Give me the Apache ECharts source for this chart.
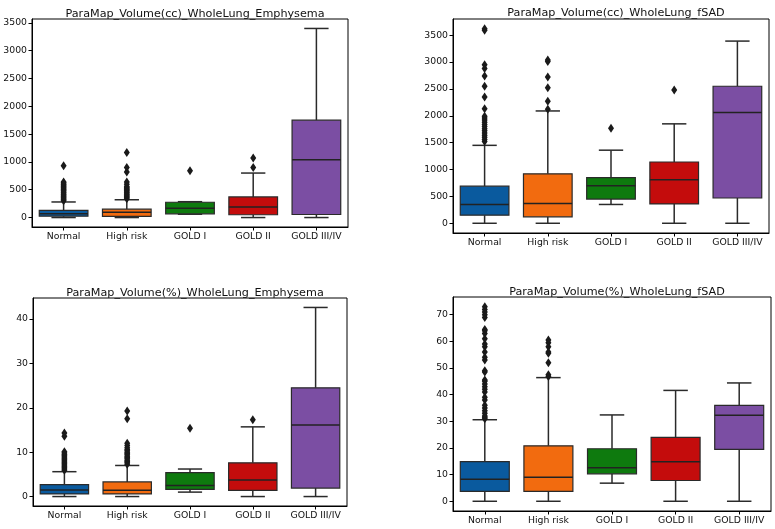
<!DOCTYPE html>
<html><head><meta charset="utf-8">
<script src="https://cdn.jsdelivr.net/npm/echarts@6/dist/echarts.min.js"></script>
<style>html,body{margin:0;padding:0;background:#fff}#c{width:775px;height:529px}</style>
</head><body><div id="c"></div>
<script>
const categories = ['Normal', 'High risk', 'GOLD I', 'GOLD II', 'GOLD III/IV'];
const boxColors = ['#0a5a9e', '#f26b0f', '#0e7a0e', '#c40c0c', '#7b4ea3'];

const titles = [
  'ParaMap_Volume(cc)_WholeLung_Emphysema',
  'ParaMap_Volume(cc)_WholeLung_fSAD',
  'ParaMap_Volume(%)_WholeLung_Emphysema',
  'ParaMap_Volume(%)_WholeLung_fSAD'
];

// box stats: [whiskerLow, Q1, median, Q3, whiskerHigh]
const ccEmphStats = [[0, 25, 70, 130, 280], [0, 20, 95, 150, 320], [60, 66, 167, 275, 285], [0, 50, 190, 370, 800], [0, 55, 1040, 1750, 3400]];
const ccFsadStats = [[0, 150, 350, 690, 1450], [0, 120, 370, 920, 2090], [350, 450, 700, 850, 1360], [0, 360, 810, 1140, 1850], [0, 470, 2060, 2550, 3390]];
const pctEmphStats = [[0, 0.6, 1.5, 2.7, 5.6], [0, 0.6, 1.4, 3.3, 7.0], [1.0, 1.6, 2.5, 5.4, 6.2], [0, 1.4, 3.7, 7.6, 15.7], [0, 1.9, 16.1, 24.5, 42.6]];
const pctFsadStats = [[0, 3.7, 8.3, 14.9, 30.6], [0, 3.7, 9.0, 20.8, 46.4], [6.8, 10.3, 12.6, 19.7, 32.4], [0, 7.8, 14.8, 24.0, 41.6], [0, 19.5, 32.3, 36.0, 44.4]];

// outliers per category
const ccEmphOutliers = [
  [300, 320, 340, 360, 380, 400, 420, 440, 460, 480, 500, 520, 540, 560, 580, 600, 620, 640, 930],
  [340, 360, 380, 400, 420, 440, 460, 480, 500, 520, 540, 560, 600, 640, 820, 900, 1170],
  [840],
  [900, 1070],
  []
];
const ccFsadOutliers = [
  [1520, 1560, 1600, 1640, 1680, 1720, 1760, 1800, 1840, 1880, 1920, 1960, 1990, 2130, 2350, 2550, 2740, 2880, 2950, 3590, 3620],
  [2120, 2270, 2520, 2720, 3010, 3040],
  [1770],
  [2480],
  []
];
const pctEmphOutliers = [
  [5.9, 6.2, 6.5, 6.8, 7.1, 7.4, 7.7, 8.0, 8.3, 8.6, 8.9, 9.2, 9.5, 9.8, 10.1, 13.6, 14.3],
  [7.3, 7.6, 7.9, 8.2, 8.5, 8.8, 9.1, 9.4, 9.7, 10.0, 10.3, 10.6, 11.0, 11.5, 12.0, 17.5, 19.3],
  [15.4],
  [17.3],
  []
];
const pctFsadOutliers = [
  [31, 31.5, 32, 33, 34, 35, 36, 38, 39, 41, 42, 43, 44, 45, 45.5, 48.5, 49, 53, 54, 56, 58, 59, 61, 63, 64, 64.5, 69, 70, 71, 72, 73],
  [46.8, 47.5, 52, 55.5, 56, 58, 59.5, 60.5],
  [],
  [],
  []
];

const yTicks = [
  [0, 500, 1000, 1500, 2000, 2500, 3000, 3500],
  [0, 500, 1000, 1500, 2000, 2500, 3000, 3500],
  [0, 10, 20, 30, 40],
  [0, 10, 20, 30, 40, 50, 60, 70]
];
const yRanges = [[-170, 3570], [-181, 3801], [-2.13, 44.73], [-3.65, 76.65]];

const panels = [
  { stats: ccEmphStats, outliers: ccEmphOutliers },
  { stats: ccFsadStats, outliers: ccFsadOutliers },
  { stats: pctEmphStats, outliers: pctEmphOutliers },
  { stats: pctFsadStats, outliers: pctFsadOutliers }
];

const gridPos = [
  { left: 32, top: 19, width: 316, height: 208 },
  { left: 453, top: 19, width: 316, height: 214 },
  { left: 33, top: 298, width: 314, height: 208 },
  { left: 453, top: 297, width: 318, height: 214 }
];
const titleTops = [4, 3, 283, 282];

const FONT = 'DejaVu Sans';
const edge = '#2a2a2a';

const option = {
  animation: false,
  backgroundColor: '#fff',
  title: [], grid: [], xAxis: [], yAxis: [], series: []
};

panels.forEach((p, i) => {
  const g = gridPos[i];
  option.grid.push(Object.assign({ show: true, borderColor: '#000', borderWidth: 1, containLabel: false }, g));
  option.title.push({
    text: titles[i], left: g.left + g.width / 2, top: titleTops[i], textAlign: 'center',
    textStyle: { fontFamily: FONT, fontSize: 11.2, fontWeight: 'normal', color: '#111' }
  });
  option.xAxis.push({
    type: 'category', gridIndex: i, data: categories, boundaryGap: true,
    axisLine: { show: true, onZero: false, lineStyle: { color: '#000', width: 1 } },
    axisTick: { show: true, alignWithLabel: true, length: 3.5, lineStyle: { color: '#000' } },
    axisLabel: { fontFamily: FONT, fontSize: 9.3, color: '#111', margin: 5, interval: 0 },
    splitLine: { show: false }
  });
  option.yAxis.push({
    type: 'value', gridIndex: i, min: yRanges[i][0], max: yRanges[i][1],
    axisLine: { show: true, onZero: false, lineStyle: { color: '#000', width: 1 } },
    axisTick: { show: true, length: 3.5, lineStyle: { color: '#000' }, customValues: yTicks[i] },
    axisLabel: { fontFamily: FONT, fontSize: 9.3, color: '#111', margin: 5, customValues: yTicks[i],
      formatter: v => String(v) },
    splitLine: { show: false }
  });
  const boxData = p.stats.map((s, k) => [k].concat(s));
  option.series.push({
    type: 'custom', xAxisIndex: i, yAxisIndex: i, data: boxData,
    renderItem: function (params, api) {
      const k = api.value(0);
      const bw = api.size([1, 0])[0] * 0.77;
      const cx = api.coord([k, 0])[0];
      const yLo = api.coord([k, api.value(1)])[1];
      const yQ1 = api.coord([k, api.value(2)])[1];
      const yMed = api.coord([k, api.value(3)])[1];
      const yQ3 = api.coord([k, api.value(4)])[1];
      const yHi = api.coord([k, api.value(5)])[1];
      const lw = { stroke: edge, lineWidth: 1.5 };
      return {
        type: 'group',
        children: [
          { type: 'line', shape: { x1: cx, y1: yQ1, x2: cx, y2: yLo }, style: lw },
          { type: 'line', shape: { x1: cx, y1: yQ3, x2: cx, y2: yHi }, style: lw },
          { type: 'line', shape: { x1: cx - bw / 4, y1: yLo, x2: cx + bw / 4, y2: yLo }, style: lw },
          { type: 'line', shape: { x1: cx - bw / 4, y1: yHi, x2: cx + bw / 4, y2: yHi }, style: lw },
          { type: 'rect', shape: { x: cx - bw / 2, y: yQ3, width: bw, height: yQ1 - yQ3 },
            style: { fill: boxColors[k], stroke: edge, lineWidth: 1.2 } },
          { type: 'line', shape: { x1: cx - bw / 2, y1: yMed, x2: cx + bw / 2, y2: yMed }, style: { stroke: '#222', lineWidth: 1.5 } }
        ]
      };
    }
  });
  const outData = [];
  p.outliers.forEach((arr, k) => arr.forEach(v => outData.push([k, v])));
  option.series.push({
    type: 'scatter', xAxisIndex: i, yAxisIndex: i, data: outData,
    symbol: 'diamond', symbolSize: [6, 9],
    itemStyle: { color: '#1a1a1a', opacity: 1 }, z: 5
  });
});

const chart = echarts.init(document.getElementById('c'), null, { renderer: 'canvas' });
chart.setOption(option);
</script>
</body></html>
